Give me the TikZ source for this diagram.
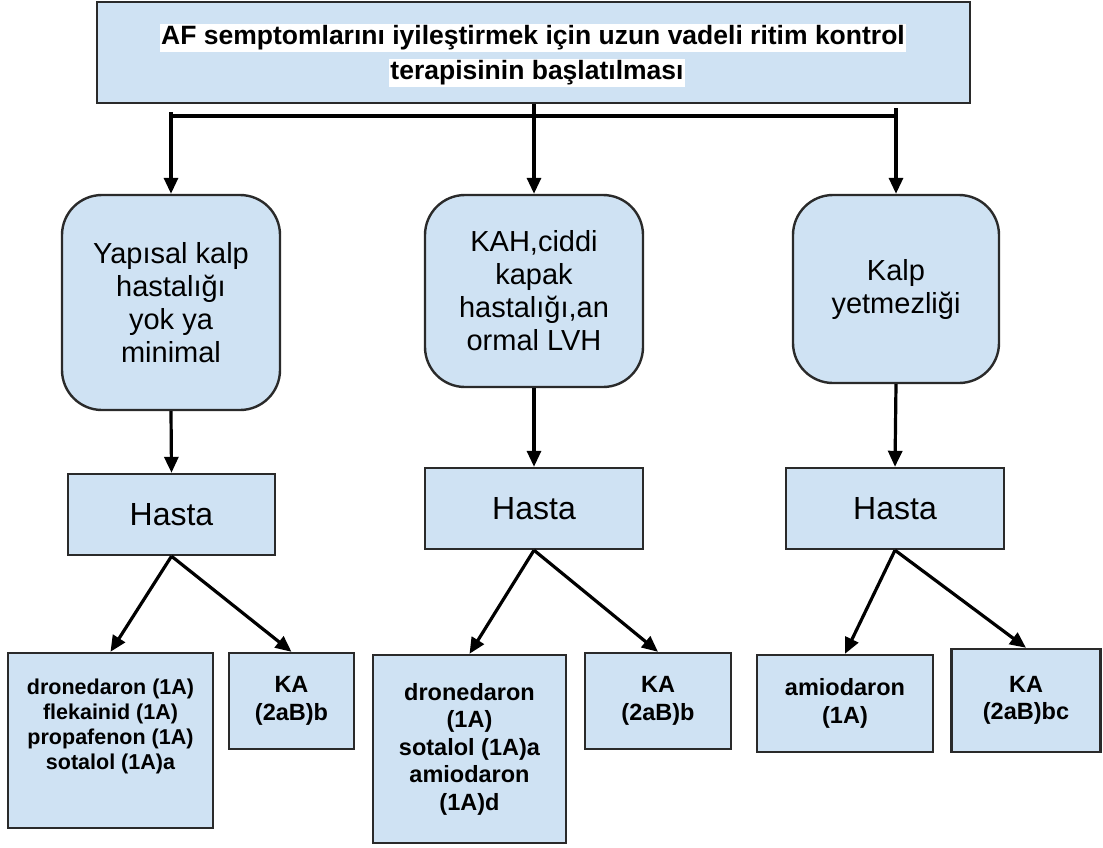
\documentclass[tikz,border=0pt]{standalone}
\usepackage{fontspec}
\setmainfont{Liberation Sans}
\usetikzlibrary{arrows.meta}
\definecolor{boxblue}{HTML}{CFE2F3}
\definecolor{kenar}{HTML}{2A2A2A}
\tikzset{
  box/.style={draw=kenar, line width=2.4pt, fill=boxblue, align=center, inner sep=0pt},
  rbox/.style={box, rounded corners=40pt, font=\fontsize{29}{33}\selectfont},
  hbox/.style={box, minimum height=81pt, font=\fontsize{32}{36}\selectfont},
  ibox/.style={box, font=\fontsize{23.5}{27.5}\selectfont\bfseries},
  hl/.style={fill=white, inner sep=1.5pt, font=\fontsize{26.5}{30}\selectfont\bfseries},
  cizgi/.style={line width=3.2pt},
  conn/.style={cizgi, -{Triangle[length=16pt,width=14pt]}}
}
\begin{document}
\begin{tikzpicture}[x=1pt,y=-1pt]
\useasboundingbox (0,0) rectangle (1103,847);
% baslik
\node[box, minimum width=873pt, minimum height=101pt] at (533.5,52.5) (baslik) {};
\node[hl] at (533,38) (satir1) {AF semptomlarını iyileştirmek için uzun vadeli ritim kontrol};
\node[hl] at (537,73) (satir2) {terapisinin başlatılması};

% gruplar
\node[rbox, minimum width=218pt, minimum height=215pt] at (171,302.5) (yapisal) {Yapısal kalp\\hastalığı\\yok ya\\minimal};
\node[rbox, minimum width=218pt, minimum height=192pt] at (534,291) (kah) {KAH,ciddi\\kapak\\hastalığı,an\\ormal LVH};
\node[rbox, minimum width=206pt, minimum height=188pt] at (896,289) (kalp) {Kalp\\yetmezliği};

\node[hbox, minimum width=207pt] at (171.5,514.5) (hasta1) {Hasta};
\node[hbox, minimum width=218pt] at (534,508.5) (hasta2) {Hasta};
\node[hbox, minimum width=218pt] at (895,508.5) (hasta3) {Hasta};

% ilaclar
\node[box, minimum width=205pt, minimum height=175pt] at (110.5,740.5) (ilac1) {};
\node[align=center, font=\fontsize{21.5}{25}\selectfont\bfseries] at (110.5,726) (ilac1yazi) {dronedaron (1A)\\flekainid (1A)\\propafenon (1A)\\sotalol (1A)a};
\node[ibox, minimum width=125pt, minimum height=96pt] at (291.5,701) (ka1) {KA\\(2aB)b};
\node[ibox, minimum width=193pt, minimum height=188pt] at (469.5,749) (ilac2) {dronedaron\\(1A)\\sotalol (1A)a\\amiodaron\\(1A)d};
\node[ibox, minimum width=146pt, minimum height=96pt] at (658,701) (ka2) {KA\\(2aB)b};
\node[ibox, minimum width=176pt, minimum height=97pt] at (845,703.5) (ilac3) {amiodaron\\(1A)};
\node[ibox, minimum width=149pt, minimum height=103pt] at (1026,700.5) (ka3) {KA\\(2aB)bc};

% oklar
\coordinate (sol) at (171,112);
\coordinate (sag) at (896,108);
\draw[cizgi] (sol |- 0,116) -- (sag |- 0,116);
\draw[conn] (sol) -- (yapisal.north);
\draw[conn] (baslik.south -| kah.north) -- (kah.north);
\draw[conn] (sag) -- (kalp.north);

\draw[conn] (yapisal.south) -- (hasta1.north);
\draw[conn] (kah.south) -- (hasta2.north);
\draw[conn] (kalp.south) -- (hasta3.north);

\draw[conn] (hasta1.south) -- (ilac1.north);
\draw[conn] (hasta1.south) -- (ka1.north);
\draw[conn] (hasta2.south) -- (ilac2.north);
\draw[conn] (hasta2.south) -- (ka2.north);
\draw[conn] (hasta3.south) -- (ilac3.north);
\draw[conn] (hasta3.south) -- (ka3.north);
\end{tikzpicture}
\end{document}
